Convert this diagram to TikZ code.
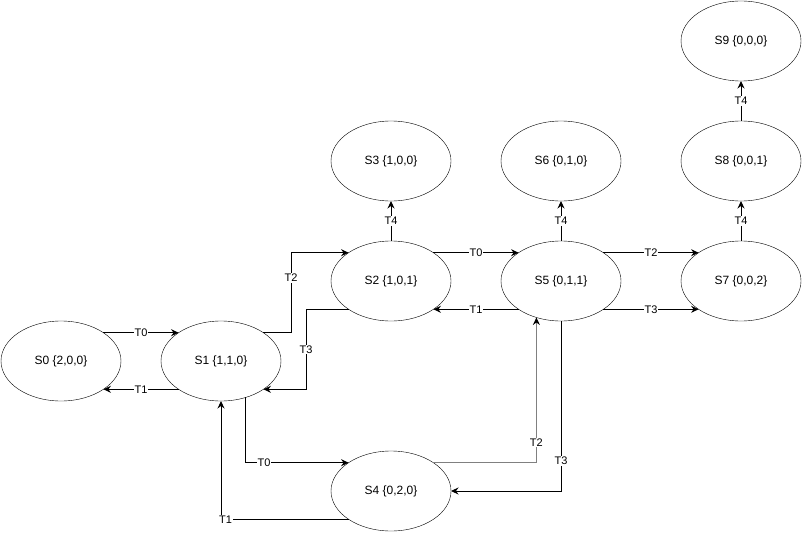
\documentclass[tikz,border=0pt]{standalone}
\usepackage{fontspec}
\setmainfont{Liberation Sans}
\usetikzlibrary{shapes.geometric,arrows.meta}

\tikzset{
  state/.style={draw, ellipse, minimum width=120pt, minimum height=80pt,
    inner sep=0pt, outer sep=0pt, font=\fontsize{12}{14}\selectfont},
  arr/.style={line width=1pt, -{Stealth[length=7.5pt,width=7pt,inset=2.5pt]}},
  grayarr/.style={line width=1pt, draw=gray,
    -{Stealth[length=7.5pt,width=7pt,inset=2.5pt,color=black]}},
  lbl/.style={fill=white, inner sep=0.8pt, font=\fontsize{11}{13}\selectfont},
}

\begin{document}
\begin{tikzpicture}[x=1pt, y=-1pt]
  \useasboundingbox (-1,-1) rectangle (801,531);

  % states
  \node[state] (S0) at (60,360)  {S0 \{2,0,0\}};
  \node[state] (S1) at (220,360) {S1 \{1,1,0\}};
  \node[state] (S2) at (390,280) {S2 \{1,0,1\}};
  \node[state] (S3) at (390,160) {S3 \{1,0,0\}};
  \node[state] (S4) at (390,490) {S4 \{0,2,0\}};
  \node[state] (S5) at (560,280) {S5 \{0,1,1\}};
  \node[state] (S6) at (560,160) {S6 \{0,1,0\}};
  \node[state] (S7) at (740,280) {S7 \{0,0,2\}};
  \node[state] (S8) at (740,160) {S8 \{0,0,1\}};
  \node[state] (S9) at (740,40)  {S9 \{0,0,0\}};

  % bend columns for the routed transitions
  \coordinate (c12) at (290,0);
  \coordinate (c21) at (305,0);

  % S0 <-> S1
  \draw[arr] (S0.north east) -- node[lbl]{T0} (S1.north west);
  \draw[arr] (S1.south west) -- node[lbl]{T1} (S0.south east);

  % S1 <-> S2
  \draw[arr] (S1.north east) -- (S1.north east -| c12)
    |- node[lbl,pos=0.342]{T2} (S2.north west);
  \draw[arr] (S2.south west) -- (S2.south west -| c21)
    |- node[lbl,pos=0.25]{T3} (S1.south east);

  % S1 <-> S4
  \draw[arr] (S1.-56.4) |- node[lbl,pos=0.59]{T0} (S4.north west);
  \draw[arr] (S4.south west) -| node[lbl,pos=0.482]{T1} (S1.south);

  % S4 <-> S5
  \draw[grayarr] (S4.north east) -| node[lbl,pos=0.569]{T2} (S5.236.8);
  \draw[arr] (S5.south) |- node[lbl,pos=0.412]{T3} (S4.east);

  % S2 <-> S5
  \draw[arr] (S2.north east) -- node[lbl]{T0} (S5.north west);
  \draw[arr] (S5.south west) -- node[lbl]{T1} (S2.south east);

  % S5 -> S7
  \draw[arr] (S5.north east) -- node[lbl]{T2} (S7.north west);
  \draw[arr] (S5.south east) -- node[lbl]{T3} (S7.south west);

  % T4 firings
  \draw[arr] (S2.north) -- node[lbl]{T4} (S3.south);
  \draw[arr] (S5.north) -- node[lbl]{T4} (S6.south);
  \draw[arr] (S7.north) -- node[lbl]{T4} (S8.south);
  \draw[arr] (S8.north) -- node[lbl]{T4} (S9.south);
\end{tikzpicture}
\end{document}
